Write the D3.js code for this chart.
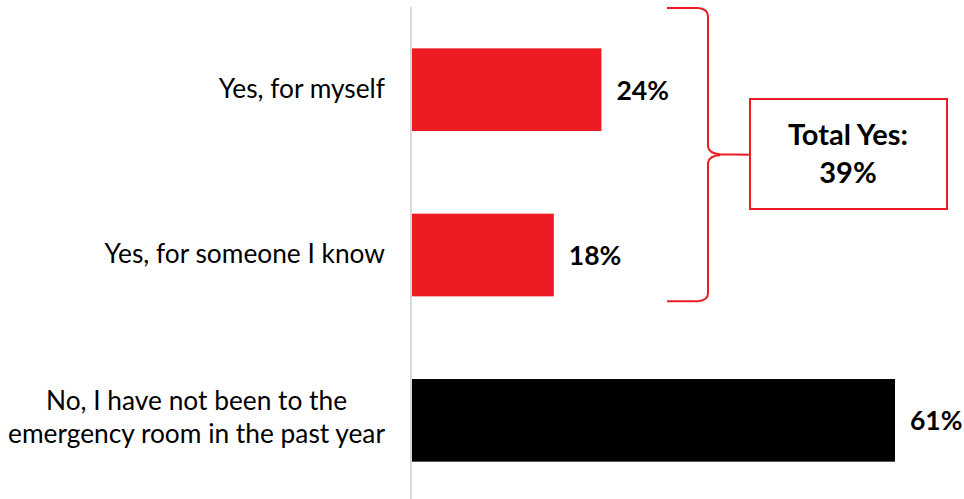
<!DOCTYPE html>
<html>
<head>
<meta charset="utf-8">
<script src="https://cdn.jsdelivr.net/npm/d3@7"></script>
<style>
  body { margin: 0; background: #fff; }
  text { font-family: Lato, "Open Sans", sans-serif; }
</style>
</head>
<body>
<div id="container"></div>
<script>
var categories = ["Yes, for myself", "Yes, for someone I know", "No, I have not been to the|emergency room in the past year"];
var values = [24, 18, 61];
var barColors = ["#ED1C24", "#ED1C24", "#000000"];
var totalLines = ["Total Yes:", "39%"];

var width = 964, height = 499;
var red = "#ED1C24";

var svg = d3.select("#container")
    .append("svg")
        .attr("width", width)
        .attr("height", height);

var x = d3.scaleLinear()
    .domain([0, 61])
    .range([411, 895]);

var y = d3.scaleBand()
    .domain(categories)
    .range([7, 503])
    .paddingInner(0.5)
    .paddingOuter(0.25);

// bars
svg.selectAll("rect.bar")
    .data(values)
    .enter()
    .append("rect")
    .attr("class", "bar")
    .attr("x", x(0))
    .attr("y", function(d, i) { return y(categories[i]); })
    .attr("width", function(d) { return x(d) - x(0); })
    .attr("height", y.bandwidth())
    .attr("fill", function(d, i) { return barColors[i]; });

// vertical axis line
svg.append("line")
    .attr("x1", x(0)).attr("x2", x(0))
    .attr("y1", 7).attr("y2", height)
    .attr("stroke", "#d9d9d9")
    .attr("stroke-width", 2);

// category labels (block right aligned, lines centred inside block)
var labelRight = 385;
svg.selectAll("g.cat")
    .data(categories)
    .enter()
    .append("g")
    .attr("class", "cat")
    .each(function(d) {
        var lines = d.split("|");
        var cy = y(d) + y.bandwidth() / 2;
        var t = d3.select(this).append("text")
            .attr("font-size", 26.3)
            .attr("text-anchor", "middle")
            .attr("fill", "#000");
        var spans = lines.map(function(l, j) {
            var off = lines.length == 1 ? 8 : (j == 0 ? -10 : 23);
            return t.append("tspan")
                .attr("y", cy + off)
                .text(l);
        });
        var maxW = d3.max(spans, function(s) { return s.node().getComputedTextLength(); });
        spans.forEach(function(s) { s.attr("x", labelRight - maxW / 2); });
    });

// value labels
svg.selectAll("text.val")
    .data(values)
    .enter()
    .append("text")
    .attr("class", "val")
    .attr("x", function(d) { return x(d) + 15; })
    .attr("y", function(d, i) { return y(categories[i]) + y.bandwidth() / 2 + 10; })
    .attr("font-size", 26.5)
    .attr("font-weight", "bold")
    .text(function(d) { return d + "%"; });

// curly brace around the two "yes" bars
var braceTop = 8,
    braceBottom = y(categories[1]) + y.bandwidth() + 5,
    mid = (braceTop + braceBottom) / 2,
    bx0 = 667, bx = 708, tip = 749;

var p = d3.path();
p.moveTo(bx0, braceTop);
p.lineTo(bx - 10, braceTop);
p.quadraticCurveTo(bx, braceTop + 1, bx, braceTop + 8);
p.lineTo(bx, mid - 8);
p.quadraticCurveTo(bx + 1, mid - 1, bx + 12, mid - 0.5);
p.lineTo(tip, mid);
p.moveTo(bx + 12, mid + 0.5);
p.quadraticCurveTo(bx + 1, mid + 1, bx, mid + 8);
p.lineTo(bx, braceBottom - 8);
p.quadraticCurveTo(bx, braceBottom - 1, bx - 10, braceBottom);
p.lineTo(bx0, braceBottom);

svg.append("path")
    .attr("d", p.toString())
    .attr("fill", "none")
    .attr("stroke", red)
    .attr("stroke-width", 2);

// total box
svg.append("rect")
    .attr("x", 750).attr("y", 99)
    .attr("width", 197).attr("height", 110)
    .attr("fill", "#fff")
    .attr("stroke", red)
    .attr("stroke-width", 2);

svg.selectAll("text.total")
    .data(totalLines)
    .enter()
    .append("text")
    .attr("class", "total")
    .attr("x", 848)
    .attr("y", function(d, i) { return 145 + i * 38; })
    .attr("text-anchor", "middle")
    .attr("font-size", 29)
    .attr("font-weight", "bold")
    .text(function(d) { return d; });
</script>
</body>
</html>
